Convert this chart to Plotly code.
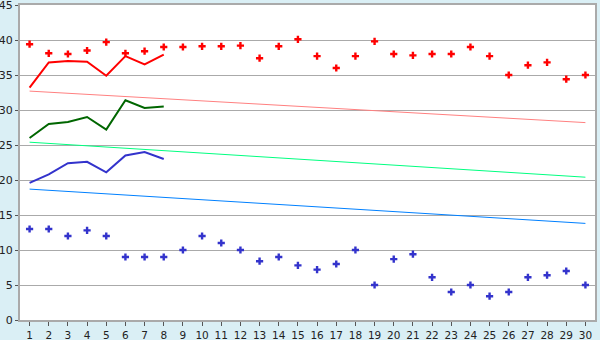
import plotly.graph_objects as go

days = list(range(1, 31))
red_points = [39.4, 38.1, 38.0, 38.5, 39.7, 38.1, 38.4, 39.0, 39.0, 39.1,
              39.1, 39.2, 37.4, 39.1, 40.1, 37.7, 36.0, 37.7, 39.8, 38.0,
              37.8, 38.0, 38.0, 39.0, 37.7, 35.0, 36.4, 36.8, 34.4, 35.0]
blue_points = [13, 13, 12, 12.8, 12, 9, 9, 9, 10, 12,
               11, 10, 8.4, 9, 7.8, 7.2, 8, 10, 5, 8.7,
               9.4, 6.1, 4, 5, 3.4, 4, 6.1, 6.4, 7, 5]
line_days = list(range(1, 9))
red_line = [33.2, 36.8, 37.0, 36.9, 34.9, 37.7, 36.5, 37.9]
green_line = [26.0, 28.0, 28.3, 29.0, 27.2, 31.4, 30.3, 30.5]
blue_line = [19.6, 20.8, 22.4, 22.6, 21.1, 23.5, 24.0, 23.0]
trend_days = [1, 30]
pink_trend = [32.7, 28.2]
green_trend = [25.4, 20.4]
blue_trend = [18.7, 13.8]
y_ticks = [0, 5, 10, 15, 20, 25, 30, 35, 40, 45]

fig = go.Figure()
fig.add_trace(go.Scatter(x=trend_days, y=pink_trend, mode="lines",
                         line=dict(color="#FF8080", width=1)))
fig.add_trace(go.Scatter(x=trend_days, y=green_trend, mode="lines",
                         line=dict(color="#00FF80", width=1)))
fig.add_trace(go.Scatter(x=trend_days, y=blue_trend, mode="lines",
                         line=dict(color="#0080FF", width=1)))
fig.add_trace(go.Scatter(x=line_days, y=red_line, mode="lines",
                         line=dict(color="#FF0000", width=2)))
fig.add_trace(go.Scatter(x=line_days, y=green_line, mode="lines",
                         line=dict(color="#006600", width=2)))
fig.add_trace(go.Scatter(x=line_days, y=blue_line, mode="lines",
                         line=dict(color="#3333CC", width=2)))
fig.add_trace(go.Scatter(x=days, y=red_points, mode="markers",
                         marker=dict(symbol="cross", size=6, color="#FF0000",
                                     line=dict(width=0))))
fig.add_trace(go.Scatter(x=days, y=blue_points, mode="markers",
                         marker=dict(symbol="cross", size=6, color="#3333CC",
                                     line=dict(width=0))))

fig.update_layout(
    width=600, height=340,
    margin=dict(l=20, r=5, t=5, b=20),
    paper_bgcolor="#DAEFF5",
    plot_bgcolor="#FFFFFF",
    showlegend=False,
    font=dict(family="DejaVu Sans", size=11, color="#222222"),
)
fig.update_xaxes(
    range=[0.5, 30.5], tickmode="array", tickvals=days,
    ticks="outside", ticklen=4, tickcolor="#555555",
    tickfont=dict(size=10.5),
    showgrid=False, showline=True, linecolor="#AAAAAA", linewidth=2,
    mirror=True, zeroline=False, automargin=False,
    ticklabeloverflow="allow",
)
fig.update_yaxes(
    range=[0, 45], tickmode="array", tickvals=y_ticks,
    ticks="outside", ticklen=3, tickcolor="#555555",
    showgrid=True, gridcolor="#AAAAAA", gridwidth=1,
    showline=True, linecolor="#AAAAAA", linewidth=2,
    mirror=True, zeroline=False, automargin=False,
    ticklabeloverflow="allow",
)
fig.write_html("out.html")
